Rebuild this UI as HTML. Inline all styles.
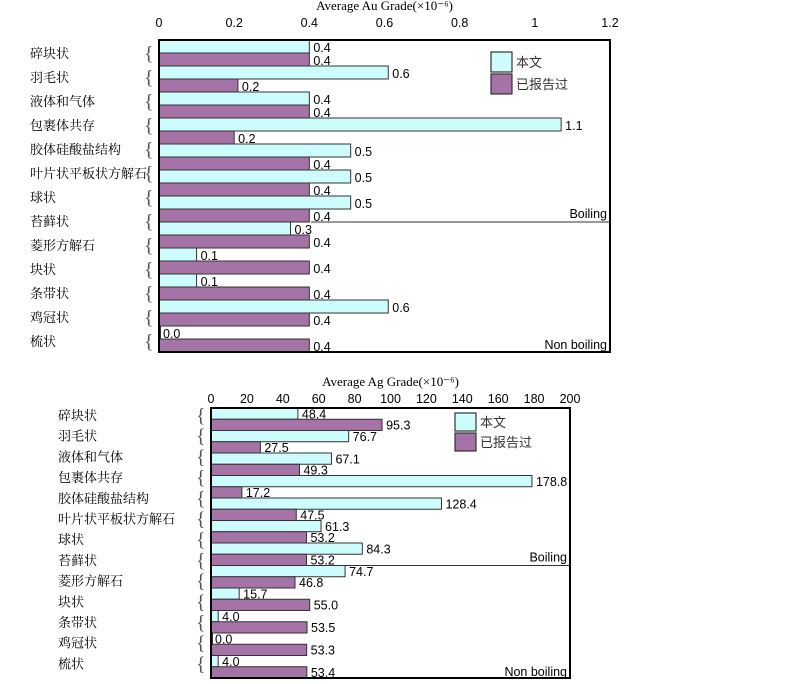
<!DOCTYPE html>
<html><head><meta charset="utf-8"><style>
body{margin:0;background:#fff;width:800px;height:679px;overflow:hidden}
svg text{font-family:"Liberation Sans","Noto Sans CJK SC",sans-serif}
.ser{font-family:"Liberation Serif","Noto Serif CJK SC",serif !important}
</style></head><body>
<svg id="svg" width="800" height="679"></svg>
<script>
const categories=["碎块状","羽毛状","液体和气体","包裹体共存","胶体硅酸盐结构","叶片状平板状方解石","球状","苔藓状","菱形方解石","块状","条带状","鸡冠状","梳状"];
const auThis=[0.4,0.61,0.4,1.07,0.51,0.51,0.51,0.35,0.1,0.1,0.61,0.0];
const auPrev=[0.4,0.21,0.4,0.2,0.4,0.4,0.4,0.4,0.4,0.4,0.4,0.4];
const auThisLbl=["0.4","0.6","0.4","1.1","0.5","0.5","0.5","0.3","0.1","0.1","0.6","0.0"];
const auPrevLbl=["0.4","0.2","0.4","0.2","0.4","0.4","0.4","0.4","0.4","0.4","0.4","0.4"];
const auTicks=[0,0.2,0.4,0.6,0.8,1,1.2];
const agThis=[48.4,76.7,67.1,178.8,128.4,61.3,84.3,74.7,15.7,4.0,0.0,4.0];
const agPrev=[95.3,27.5,49.3,17.2,47.5,53.2,53.2,46.8,55.0,53.5,53.3,53.4];
const agTicks=[0,20,40,60,80,100,120,140,160,180,200];
const NS="http://www.w3.org/2000/svg";
const svg=document.getElementById('svg');
function mk(t,a,txt){const e=document.createElementNS(NS,t);for(const k in a)e.setAttribute(k,a[k]);if(txt!=null)e.textContent=txt;svg.appendChild(e);return e;}
function chart(o){
  const x=v=>o.x0+(v/o.max)*(o.x1-o.x0);
  const n=o.a.length;
  const pairH=(o.y1-o.y0)/n;
  let t=mk('text',{x:(o.x0+o.x1)/2,y:o.titleY,'text-anchor':'middle','font-size':13,class:'ser'},o.title);
  
  o.ticks.forEach(v=>{const e=mk('text',{x:x(v),y:o.tickY,'text-anchor':'middle','font-size':12.5},String(v));
    });
  categories.forEach((c,i)=>{
    const yc=o.labY0+i*o.labStep;
    const e=mk('text',{x:o.labX,y:yc+5,'font-size':13,class:'ser'},c);
    
    const b=mk('text',{x:o.braceX,y:yc+7,'font-size':20,fill:'#555',class:'ser'},'{');
    
  });
  for(let i=0;i<n;i++){
    const yc=o.y0+i*pairH;
    [[o.a,'#ccfcfc',o.al],[o.b,'#a673a6',o.bl]].forEach((s,k)=>{
      const v=s[0][i],by=yc+k*pairH/2;
      const r=mk('rect',{x:o.x0,y:by,width:Math.max(x(v)-o.x0,1.5),height:pairH/2,fill:s[1],stroke:'#333','stroke-width':1});
      
      const lbl=s[2]?s[2][i]:v.toFixed(1);
      const l=mk('text',{x:x(v)+4,y:by+pairH/2-1,'font-size':12.5},lbl);
      
    });
  }
  const f=mk('rect',{x:o.x0,y:o.y0,width:o.x1-o.x0,height:o.y1-o.y0,fill:'none',stroke:'#000','stroke-width':2});
  
  const ly=o.y0+7*pairH;
  const bl=mk('line',{x1:o.lineX,y1:ly,x2:o.x1,y2:ly,stroke:'#333','stroke-width':1});
  
  let e=mk('text',{x:o.x1-3,y:ly-4,'text-anchor':'end','font-size':12.5},'Boiling');
  
  e=mk('text',{x:o.x1-3,y:o.nbY,'text-anchor':'end','font-size':12.5},'Non boiling');
  
  [['本文','#ccfcfc'],['已报告过','#a673a6']].forEach((s,k)=>{
    const r=mk('rect',{x:o.legX,y:o.legY+k*o.legH,width:21,height:o.legH-2,fill:s[1],stroke:'#333','stroke-width':1.2});
    
    const l=mk('text',{x:o.legX+25,y:o.legY+k*o.legH+o.legH/2+4,'font-size':13,fill:'#333'},s[0]);
    
  });
}
chart({id:'au',title:'Average Au Grade(×10⁻⁶)',titleY:10,tickY:27,ticks:auTicks,max:1.2,x0:159,x1:610,y0:40,y1:352,
  a:auThis,b:auPrev,al:auThisLbl,bl:auPrevLbl,labX:30,labY0:53,labStep:24,braceX:144,lineX:311,legX:491,legY:52,legH:22,nbY:349});
chart({id:'ag',title:'Average Ag Grade(×10⁻⁶)',titleY:386,tickY:403,ticks:agTicks,max:200,x0:211,x1:570,y0:408,y1:678,
  a:agThis,b:agPrev,labX:58,labY0:415,labStep:20.7,braceX:196,lineX:308,legX:455,legY:413,legH:20,nbY:676});
</script>
</body></html>
